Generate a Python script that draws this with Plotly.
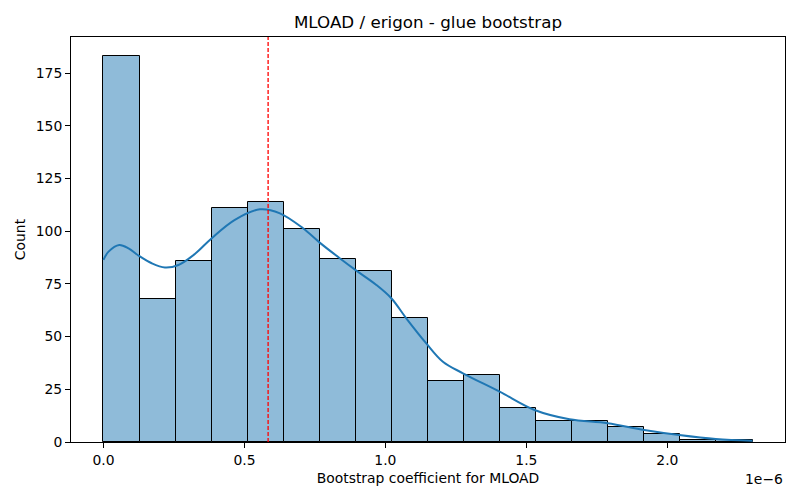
import plotly.graph_objects as go

# Histogram data (x in units of 1e-6)
bin_start = 0.0
bin_width = 0.1279
counts = [183, 68, 86, 111, 114, 101, 87, 81, 59, 29, 32, 16, 10, 10, 7, 4, 1, 1]

# KDE curve (x in 1e-6, y in counts)
kde_x = [0.0, 0.018, 0.056, 0.089, 0.124, 0.171, 0.218, 0.266, 0.325, 0.384, 0.466,
         0.555, 0.626, 0.708, 0.767, 0.838, 0.897, 0.968, 1.021, 1.074, 1.145, 1.204,
         1.275, 1.405, 1.529, 1.653, 1.788, 1.918, 2.042, 2.172, 2.302]
kde_y = [86.4, 90.3, 93.5, 91.9, 88.5, 84.8, 82.8, 84.0, 89.3, 96.7, 105.4,
         110.4, 108.5, 101.4, 94.6, 87.2, 81.3, 74.5, 68.2, 58.7, 46.8, 38.1,
         32.6, 23.9, 15.2, 10.8, 8.9, 5.7, 3.3, 1.4, 0.6]

mean_line = 0.584

x_ticks = [0.0, 0.5, 1.0, 1.5, 2.0]
x_ticklabels = ["0.0", "0.5", "1.0", "1.5", "2.0"]
y_ticks = [0, 25, 50, 75, 100, 125, 150, 175]

centers = [bin_start + bin_width * (i + 0.5) for i in range(len(counts))]
n_edges_max = bin_start + bin_width * len(counts)

fig = go.Figure()
fig.add_trace(go.Bar(
    x=centers, y=counts, width=[bin_width] * len(counts),
    marker=dict(color="rgba(31,119,180,0.5)", line=dict(color="black", width=1)),
    hoverinfo="skip", showlegend=False,
))
fig.add_trace(go.Scatter(
    x=kde_x, y=kde_y, mode="lines",
    line=dict(color="#1f77b4", width=2, shape="spline", smoothing=1.0),
    showlegend=False, hoverinfo="skip",
))
fig.add_shape(type="line", xref="x", yref="paper", x0=mean_line, x1=mean_line,
              y0=0, y1=1, line=dict(color="red", width=1.3, dash="4px,2px"))

margin_x = 0.05 * n_edges_max
fig.update_layout(
    width=800, height=500,
    margin=dict(l=71, r=15, t=37, b=58, autoexpand=False),
    paper_bgcolor="white", plot_bgcolor="white",
    font=dict(family="DejaVu Sans", size=14, color="black"),
    bargap=0,
    title=dict(text="MLOAD / erigon - glue bootstrap", x=0.535, xanchor="center",
               y=1 - 22 / 500, yanchor="middle", font=dict(size=16.7, color="black")),
    xaxis=dict(
        range=[bin_start - margin_x, n_edges_max + margin_x],
        tickvals=x_ticks, ticktext=x_ticklabels, automargin=False,
        showline=True, linecolor="black", linewidth=1, mirror=True,
        ticks="outside", ticklen=5, tickcolor="black", showgrid=False, zeroline=False,
        tickfont=dict(size=13.9, color="black"),
        title=dict(text="Bootstrap coefficient for MLOAD", standoff=6,
                   font=dict(size=13.9, color="black")),
    ),
    yaxis=dict(
        range=[0, max(counts) * 1.05],
        tickvals=y_ticks, automargin=False,
        showline=True, linecolor="black", linewidth=1, mirror=True,
        ticks="outside", ticklen=5, tickcolor="black", showgrid=False, zeroline=False,
        tickfont=dict(size=13.9, color="black"),
        title=dict(text="Count", standoff=6, font=dict(size=13.9, color="black")),
    ),
)
fig.add_annotation(text="1e\u22126", xref="paper", yref="paper", x=1, y=0,
                   xanchor="right", yanchor="top", yshift=-27, showarrow=False,
                   font=dict(size=13.9, color="black"))

fig.write_html("out.html", config={"displayModeBar": False},
               post_script="document.body.style.margin='0';document.body.style.overflow='hidden';")
